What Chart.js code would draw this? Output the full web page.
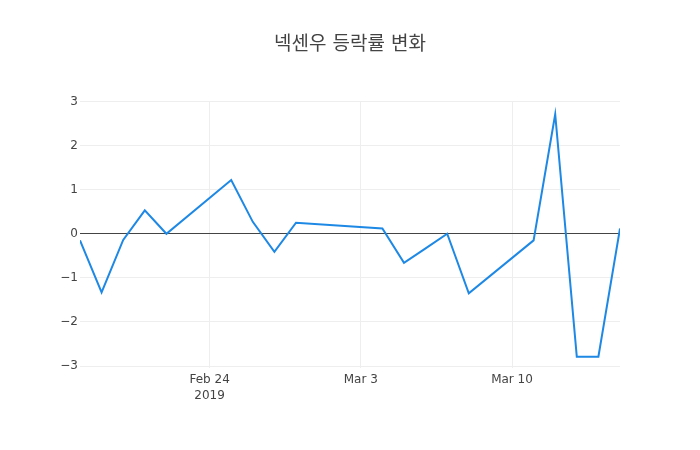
<!DOCTYPE html>
<html>
<head>
<meta charset="utf-8">
<script src="https://cdn.jsdelivr.net/npm/chart.js@4.4.1/dist/chart.umd.min.js"></script>
<style>
  html, body { margin: 0; padding: 0; background: #fff; }
  #wrap { width: 700px; height: 450px; }
</style>
</head>
<body>
<div id="wrap"><canvas id="c" width="700" height="450"></canvas></div>
<script>
const titleText = '넥센우 등락률 변화';
const dates = ['2019-02-18','2019-02-19','2019-02-20','2019-02-21','2019-02-22',
               '2019-02-25','2019-02-26','2019-02-27','2019-02-28',
               '2019-03-04','2019-03-05','2019-03-06','2019-03-07','2019-03-08',
               '2019-03-11','2019-03-12','2019-03-13','2019-03-14','2019-03-15'];
const changes = [-0.15, -1.33, -0.14, 0.53, 0.00,
                 1.22, 0.27, -0.41, 0.25,
                 0.12, -0.66, -0.33, 0.00, -1.35,
                 -0.15, 2.71, -2.79, -2.79, 0.12];
const xTickDates = ['2019-02-24','2019-03-03','2019-03-10'];
const xTickLabels = [['Feb 24','2019'], 'Mar 3', 'Mar 10'];
const yTickValues = [3, 2, 1, 0, -1, -2, -3];
const yTickLabels = ['3', '2', '1', '0', '\u22121', '\u22122', '\u22123'];
const yRange = [-3.045, 3.011];

function dayNum(s) {
  const p = s.split('-').map(Number);
  return Date.UTC(p[0], p[1] - 1, p[2]) / 86400000;
}
const points = dates.map((d, i) => ({ x: dayNum(d), y: changes[i] }));
const xTickNums = xTickDates.map(dayNum);

const fontFam = "'DejaVu Sans', verdana, sans-serif";

new Chart(document.getElementById('c'), {
  type: 'line',
  data: {
    datasets: [{
      data: points,
      borderColor: '#1E88E5',
      borderWidth: 2,
      pointRadius: 0,
      pointHoverRadius: 0,
      tension: 0,
      fill: false
    }]
  },
  options: {
    responsive: false,
    animation: false,
    devicePixelRatio: 1,
    layout: { padding: 0 },
    plugins: {
      legend: { display: false },
      tooltip: { enabled: false },
      title: {
        display: true,
        text: titleText,
        color: '#444',
        font: { family: "'DejaVu Sans', 'Noto Sans CJK KR', sans-serif", size: 19, weight: 'normal', lineHeight: 1.2 },
        padding: { top: 33.6, bottom: 44.6 }
      }
    },
    scales: {
      x: {
        type: 'linear',
        min: dayNum(dates[0]),
        max: dayNum(dates[dates.length - 1]),
        border: { display: false },
        grid: { color: '#eeeeee', drawTicks: false, lineWidth: 1 },
        afterBuildTicks: (s) => { s.ticks = xTickNums.map(v => ({ value: v })); },
        afterFit: (s) => { s.height = 82; },
        ticks: {
          autoSkip: false,
          maxRotation: 0,
          padding: 4,
          color: '#444',
          font: { family: fontFam, size: 12, lineHeight: 1.3 },
          callback: (v) => { const i = xTickNums.indexOf(v); return i >= 0 ? xTickLabels[i] : ''; }
        }
      },
      y: {
        type: 'linear',
        position: 'left',
        min: yRange[0],
        max: yRange[1],
        border: { display: false },
        grid: {
          drawTicks: false,
          lineWidth: 1,
          color: (ctx) => (ctx.tick && ctx.tick.value === 0) ? '#444444' : '#eeeeee'
        },
        afterBuildTicks: (s) => { s.ticks = yTickValues.map(v => ({ value: v })); },
        afterFit: (s) => { s.width = 80; },
        ticks: {
          padding: 2,
          color: '#444',
          font: { family: fontFam, size: 12 },
          callback: (v) => { const i = yTickValues.indexOf(v); return i >= 0 ? yTickLabels[i] : ''; }
        }
      },
      y2: {
        type: 'linear',
        position: 'right',
        display: true,
        border: { display: false },
        grid: { display: false, drawTicks: false },
        ticks: { display: false },
        afterFit: (s) => { s.width = 80; }
      }
    }
  }
});
</script>
</body>
</html>
